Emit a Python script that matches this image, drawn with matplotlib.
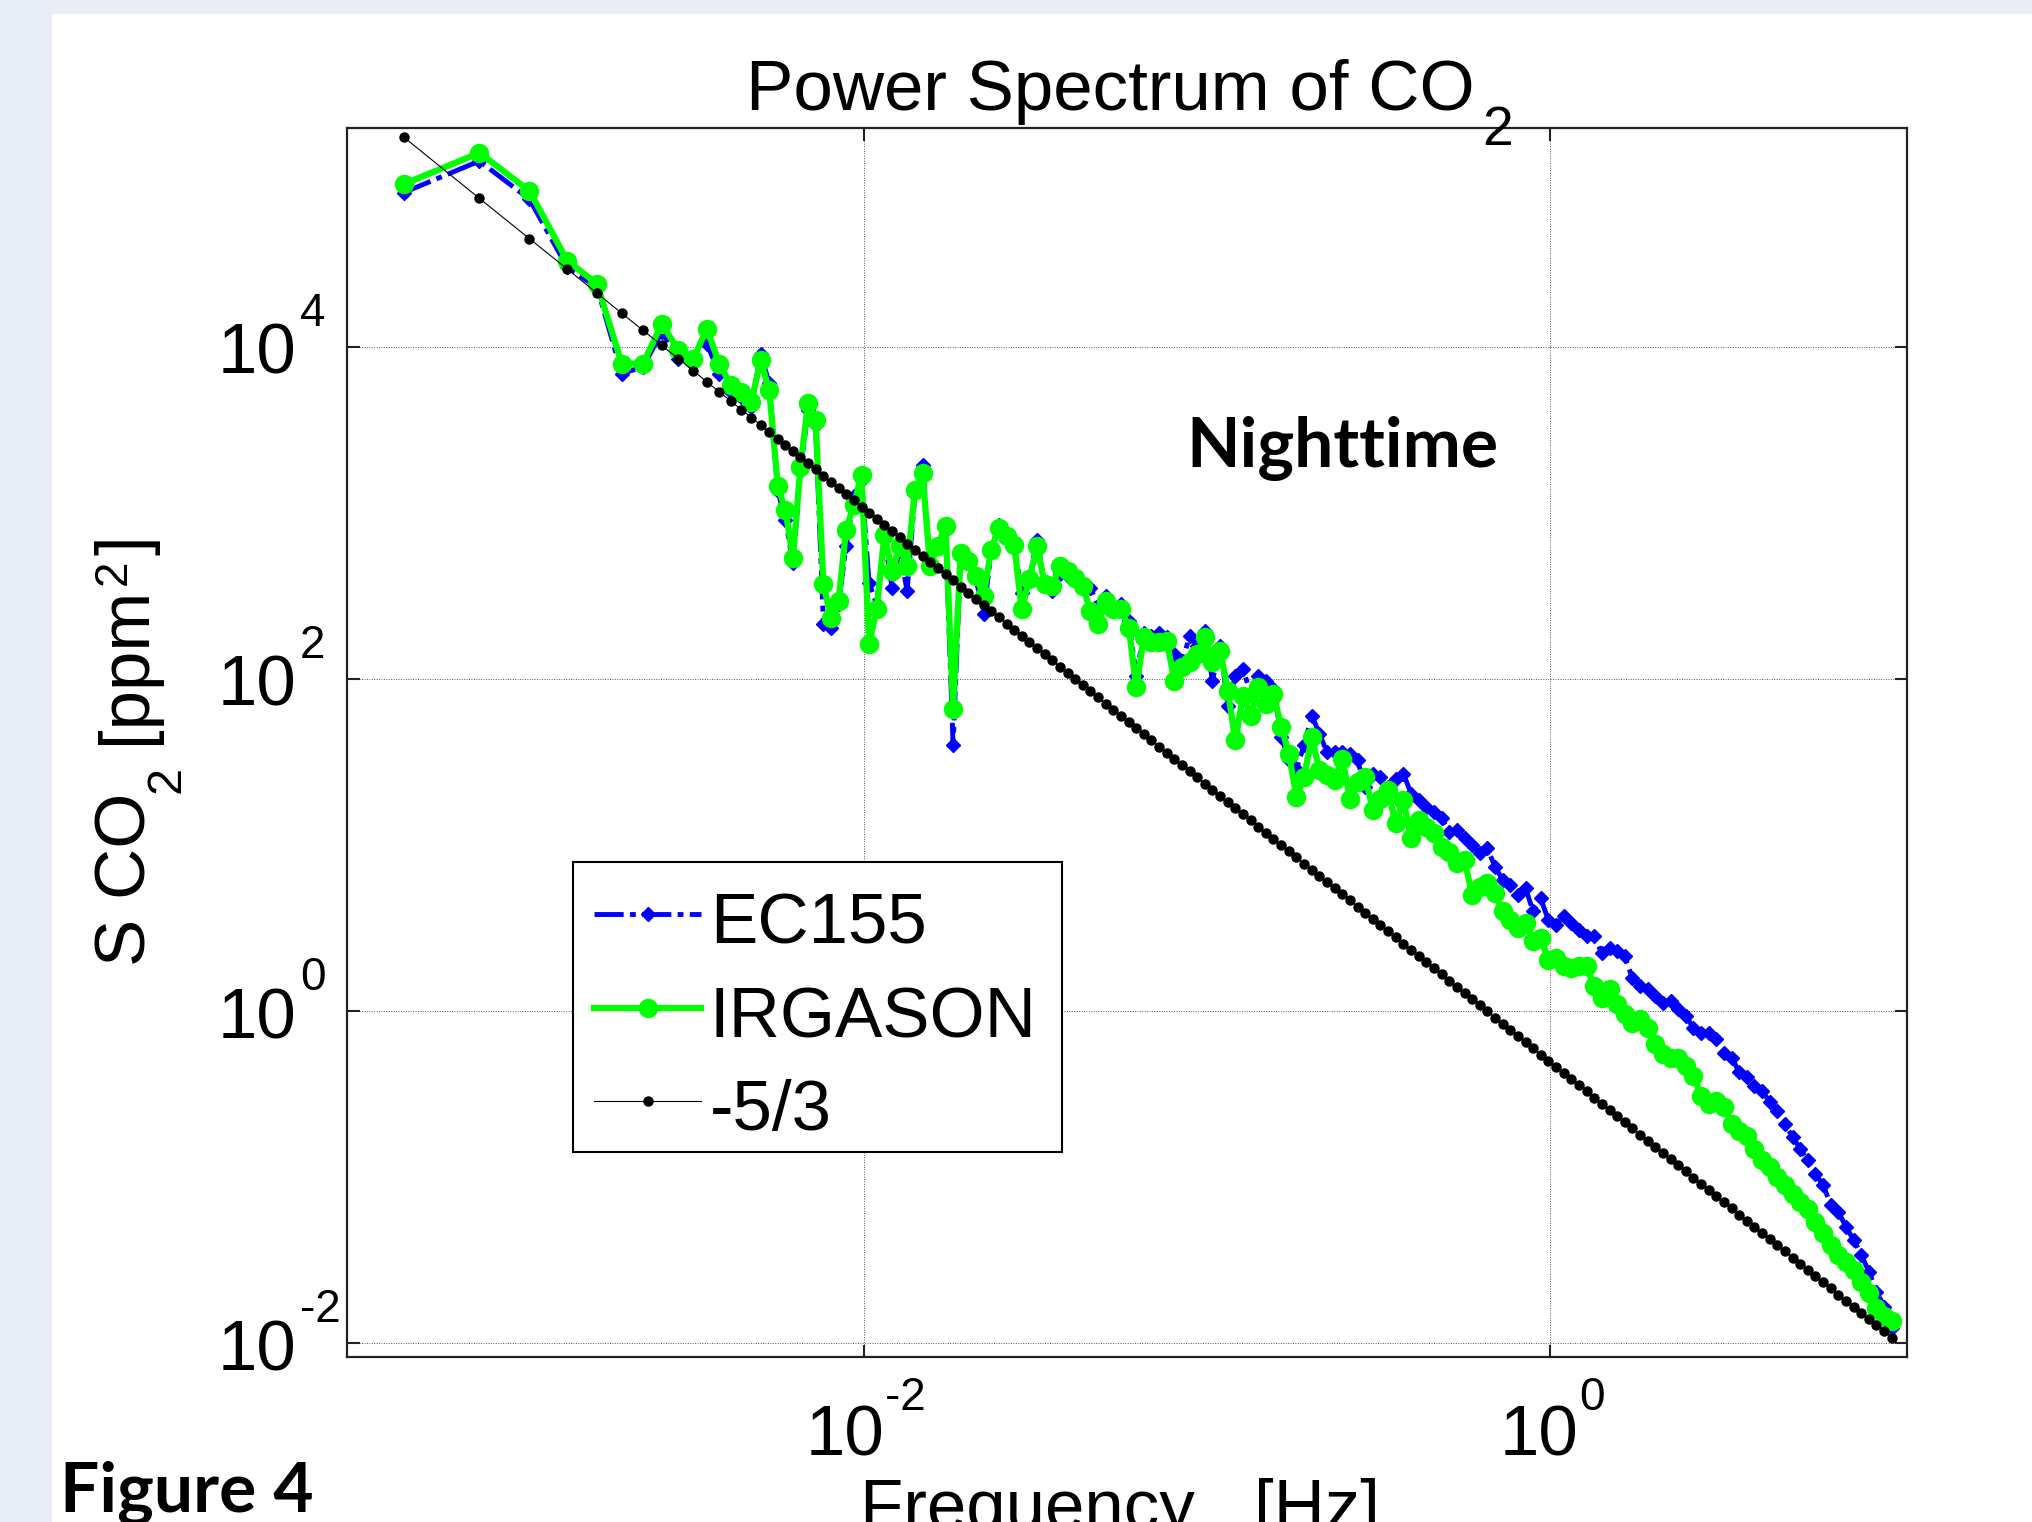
import matplotlib.pyplot as plt
from matplotlib.lines import Line2D
from matplotlib.patches import Rectangle
from matplotlib.ticker import NullLocator
import numpy as np

plt.rcParams['font.family'] = ['Liberation Sans', 'DejaVu Sans']

# log10 of frequency [Hz]
log_freq = [
    -3.342, -3.121, -2.975, -2.865, -2.778, -2.706, -2.644, -2.589, -2.541, -2.497,
    -2.458, -2.422, -2.388, -2.357, -2.328, -2.301, -2.276, -2.251, -2.229, -2.207,
    -2.185, -2.163, -2.141, -2.118, -2.096, -2.074, -2.052, -2.029, -2.007, -1.985,
    -1.963, -1.940, -1.918, -1.896, -1.874, -1.851, -1.829, -1.807, -1.785, -1.762,
    -1.740, -1.718, -1.696, -1.673, -1.651, -1.629, -1.607, -1.584, -1.562, -1.540,
    -1.518, -1.495, -1.473, -1.451, -1.429, -1.406, -1.384, -1.362, -1.340, -1.317,
    -1.295, -1.273, -1.251, -1.228, -1.206, -1.184, -1.162, -1.139, -1.117, -1.095,
    -1.073, -1.050, -1.028, -1.006, -0.984, -0.961, -0.939, -0.917, -0.895, -0.872,
    -0.850, -0.828, -0.806, -0.783, -0.761, -0.739, -0.717, -0.694, -0.672, -0.650,
    -0.628, -0.605, -0.583, -0.561, -0.539, -0.516, -0.494, -0.472, -0.450, -0.427,
    -0.405, -0.383, -0.361, -0.338, -0.316, -0.294, -0.272, -0.249, -0.227, -0.205,
    -0.183, -0.160, -0.138, -0.116, -0.094, -0.071, -0.049, -0.027, -0.005, 0.018,
    0.040, 0.062, 0.085, 0.107, 0.129, 0.151, 0.174, 0.196, 0.218, 0.240,
    0.263, 0.285, 0.307, 0.329, 0.352, 0.374, 0.396, 0.418, 0.441, 0.463,
    0.485, 0.507, 0.530, 0.552, 0.574, 0.596, 0.619, 0.641, 0.663, 0.685,
    0.708, 0.730, 0.752, 0.774, 0.797, 0.819, 0.841, 0.863, 0.886, 0.908,
    0.930, 0.952, 0.975, 0.997,
]

# log10 of S CO2 [ppm^2]
log_ec155 = [
    4.93, 5.12, 4.89, 4.48, 4.36, 3.84, 3.88, 4.09, 3.93, 3.90,
    4.02, 3.84, 3.73, 3.70, 3.64, 3.96, 3.78, 3.13, 2.96, 2.70,
    3.25, 3.62, 3.53, 2.33, 2.31, 2.45, 2.80, 3.10, 3.20, 2.58,
    2.45, 2.85, 2.55, 2.78, 2.53, 3.12, 3.29, 2.68, 2.80, 2.90,
    1.60, 2.74, 2.70, 2.60, 2.39, 2.77, 2.93, 2.86, 2.80, 2.52,
    2.60, 2.84, 2.56, 2.53, 2.63, 2.62, 2.60, 2.56, 2.55, 2.44,
    2.50, 2.44, 2.45, 2.35, 2.02, 2.28, 2.26, 2.28, 2.25, 2.15,
    2.10, 2.26, 2.20, 2.29, 1.99, 2.20, 1.84, 2.02, 2.06, 1.91,
    2.02, 1.99, 1.94, 1.65, 1.51, 1.46, 1.60, 1.78, 1.67, 1.56,
    1.56, 1.56, 1.55, 1.51, 1.35, 1.43, 1.41, 1.35, 1.40, 1.43,
    1.31, 1.27, 1.23, 1.20, 1.16, 1.08, 1.09, 1.04, 1.00, 0.95,
    0.98, 0.87, 0.79, 0.76, 0.70, 0.74, 0.60, 0.68, 0.55, 0.52,
    0.57, 0.53, 0.49, 0.45, 0.45, 0.35, 0.38, 0.36, 0.33, 0.20,
    0.15, 0.13, 0.09, 0.05, 0.06, 0.01, -0.03, -0.10, -0.13, -0.13,
    -0.17, -0.25, -0.28, -0.37, -0.40, -0.45, -0.48, -0.55, -0.60, -0.68,
    -0.76, -0.83, -0.90, -0.98, -1.05, -1.17, -1.21, -1.30, -1.38, -1.47,
    -1.57, -1.69, -1.78, -1.91,
]

log_irgason = [
    4.98, 5.17, 4.94, 4.52, 4.38, 3.90, 3.90, 4.14, 3.98, 3.93,
    4.11, 3.90, 3.77, 3.73, 3.67, 3.92, 3.74, 3.16, 3.02, 2.73,
    3.28, 3.66, 3.56, 2.57, 2.37, 2.47, 2.90, 3.05, 3.23, 2.21,
    2.42, 2.87, 2.65, 2.80, 2.68, 3.14, 3.24, 2.68, 2.80, 2.92,
    1.82, 2.76, 2.71, 2.62, 2.50, 2.78, 2.91, 2.86, 2.81, 2.42,
    2.60, 2.80, 2.57, 2.56, 2.68, 2.65, 2.61, 2.56, 2.41, 2.33,
    2.47, 2.42, 2.42, 2.31, 1.95, 2.25, 2.22, 2.22, 2.23, 1.99,
    2.07, 2.10, 2.15, 2.25, 2.10, 2.17, 1.93, 1.63, 1.90, 1.78,
    1.95, 1.85, 1.91, 1.71, 1.55, 1.29, 1.41, 1.65, 1.45, 1.42,
    1.39, 1.52, 1.28, 1.38, 1.41, 1.21, 1.28, 1.33, 1.13, 1.27,
    1.04, 1.15, 1.11, 1.07, 0.99, 0.96, 0.89, 0.91, 0.70, 0.75,
    0.77, 0.71, 0.60, 0.55, 0.50, 0.53, 0.42, 0.44, 0.31, 0.32,
    0.27, 0.26, 0.27, 0.27, 0.15, 0.08, 0.13, 0.04, -0.02, -0.07,
    -0.05, -0.10, -0.20, -0.26, -0.28, -0.28, -0.33, -0.39, -0.51, -0.56,
    -0.54, -0.58, -0.68, -0.72, -0.75, -0.83, -0.90, -0.94, -1.00, -1.05,
    -1.10, -1.15, -1.19, -1.27, -1.34, -1.41, -1.47, -1.51, -1.56, -1.63,
    -1.70, -1.79, -1.84, -1.87,
]

log_slope = [
    5.265, 4.895, 4.652, 4.470, 4.324, 4.203, 4.100, 4.009, 3.929, 3.856,
    3.790, 3.730, 3.674, 3.623, 3.574, 3.529, 3.487, 3.446, 3.408, 3.372,
    3.336, 3.299, 3.262, 3.224, 3.187, 3.150, 3.113, 3.076, 3.039, 3.002,
    2.965, 2.928, 2.891, 2.854, 2.816, 2.779, 2.742, 2.705, 2.668, 2.631,
    2.594, 2.557, 2.520, 2.483, 2.446, 2.409, 2.371, 2.334, 2.297, 2.260,
    2.223, 2.186, 2.149, 2.112, 2.075, 2.038, 2.001, 1.964, 1.926, 1.889,
    1.852, 1.815, 1.778, 1.741, 1.704, 1.667, 1.630, 1.593, 1.556, 1.518,
    1.481, 1.444, 1.407, 1.370, 1.333, 1.296, 1.259, 1.222, 1.185, 1.148,
    1.111, 1.073, 1.036, 0.999, 0.962, 0.925, 0.888, 0.851, 0.814, 0.777,
    0.740, 0.703, 0.666, 0.628, 0.591, 0.554, 0.517, 0.480, 0.443, 0.406,
    0.369, 0.332, 0.295, 0.258, 0.221, 0.183, 0.146, 0.109, 0.072, 0.035,
    -0.002, -0.039, -0.076, -0.113, -0.150, -0.187, -0.224, -0.262, -0.299, -0.336,
    -0.373, -0.410, -0.447, -0.484, -0.521, -0.558, -0.595, -0.632, -0.669, -0.707,
    -0.744, -0.781, -0.818, -0.855, -0.892, -0.929, -0.966, -1.003, -1.040, -1.077,
    -1.114, -1.152, -1.189, -1.226, -1.263, -1.300, -1.337, -1.374, -1.411, -1.448,
    -1.485, -1.522, -1.560, -1.597, -1.634, -1.671, -1.708, -1.745, -1.782, -1.819,
    -1.856, -1.893, -1.930, -1.967,
]

series_labels = ['EC155', 'IRGASON', '-5/3']
x_ticks = [1e-2, 1e0]
x_exps = ['-2', '0']
y_ticks = [1e4, 1e2, 1e0, 1e-2]
y_exps = ['4', '2', '0', '-2']

freq = 10 ** np.array(log_freq)
ec155 = 10 ** np.array(log_ec155)
irgason = 10 ** np.array(log_irgason)
slope = 10 ** np.array(log_slope)

styles = [
    dict(color='blue', ls=(0, (6, 1.3, 1.2, 1.3)), lw=3.5, marker='D', ms=7),
    dict(color='#00ff00', ls='-', lw=4.5, marker='o', ms=13),
    dict(color='black', ls='-', lw=0.8, marker='o', ms=6.5),
]

W, H = 2032, 1522
fig = plt.figure(figsize=(W / 100, H / 100), dpi=100, facecolor='#e9eef6')


def fx(px):
    return px / W


def fy(py):
    return 1 - py / H


# white slide panel
fig.add_artist(Rectangle((fx(52), 0), 1, fy(14), transform=fig.transFigure,
                         facecolor='white', edgecolor='none', zorder=-5))

ax = fig.add_axes([fx(347), fy(1357), fx(1907) - fx(347), fy(128) - fy(1357)])
for yv, st, lab in zip([ec155, irgason, slope], styles, series_labels):
    ax.loglog(freq, yv, label=lab, **st)

ax.set_xlim(10 ** -3.507, 10 ** 1.041)
ax.set_ylim(10 ** -2.084, 10 ** 5.319)
ax.set_xticks(x_ticks)
ax.set_yticks(y_ticks)
ax.xaxis.set_minor_locator(NullLocator())
ax.yaxis.set_minor_locator(NullLocator())
ax.tick_params(direction='in', length=9, width=1.5, top=True, right=True,
               labelbottom=False, labelleft=False, color='#222222')
ax.grid(True, ls=(0, (1, 1.5)), color='#555555', lw=0.7)
for s in ax.spines.values():
    s.set_linewidth(1.6)
    s.set_color('#222222')

# MATLAB style 10^n tick labels
for v, e in zip(y_ticks, y_exps):
    ax.annotate('10', xy=(fx(218), v), xycoords=('figure fraction', 'data'),
                xytext=(0, -27), textcoords='offset pixels', fontsize=51,
                ha='left', va='baseline')
    ax.annotate(e, xy=(fx(300), v), xycoords=('figure fraction', 'data'),
                xytext=(0, 21), textcoords='offset pixels', fontsize=33,
                ha='left', va='baseline')
for v, e, dx in zip(x_ticks, x_exps, [20, 28]):
    ax.annotate('10', xy=(v, fy(1456)), xycoords=('data', 'figure fraction'),
                xytext=(dx, 0), textcoords='offset pixels', fontsize=51,
                ha='right', va='baseline')
    ax.annotate(e, xy=(v, fy(1410)), xycoords=('data', 'figure fraction'),
                xytext=(dx + 1, 0), textcoords='offset pixels', fontsize=33,
                ha='left', va='baseline')

# title with subscript
fig.text(fx(746), fy(110), 'Power Spectrum of CO', fontsize=51, va='baseline')
fig.text(fx(1482), fy(145), '2', fontsize=40, va='baseline')

# y label, pieced together
yl = dict(rotation=90, rotation_mode='anchor', ha='left', va='baseline')
fig.text(fx(145), fy(966), 'S CO', fontsize=51, **yl)
fig.text(fx(180), fy(793), '2', fontsize=35, **yl)
fig.text(fx(145), fy(744), '[ppm', fontsize=51, **yl)
fig.text(fx(126), fy(585), '2', fontsize=33, **yl)
fig.text(fx(145), fy(555), ']', fontsize=51, **yl)

# x label, cut by the bottom edge as in the slide
fig.text(fx(1120), fy(1529), 'Frequency   [Hz]', fontsize=51, ha='center',
         va='baseline')

fig.text(fx(1186), fy(467), 'Nighttime', fontfamily='Lato', fontweight='bold',
         fontsize=50, va='baseline')
fig.text(fx(60), fy(1512), 'Figure 4', fontfamily='Lato', fontweight='bold',
         fontsize=50, va='baseline')

# legend box drawn by hand to match the MATLAB layout
fig.add_artist(Rectangle((fx(573), fy(1152)), fx(1062) - fx(573),
                         fy(862) - fy(1152), transform=fig.transFigure,
                         facecolor='white', edgecolor='black', lw=1.5, zorder=5))
for st, lab, yh, yt in zip(styles, series_labels, [914, 1008, 1101],
                           [944, 1037, 1130]):
    line_st = {k: v for k, v in st.items() if k not in ('marker', 'ms')}
    fig.add_artist(Line2D([fx(594), fx(701)], [fy(yh), fy(yh)],
                          transform=fig.transFigure, zorder=6, **line_st))
    fig.add_artist(Line2D([fx(647.5)], [fy(yh)], transform=fig.transFigure,
                          color=st['color'], ls='none', marker=st['marker'],
                          ms=st['ms'], zorder=7))
    fig.text(fx(710), fy(yt), lab, fontsize=51, va='baseline', zorder=8)

fig.savefig('out.png', dpi=100)
